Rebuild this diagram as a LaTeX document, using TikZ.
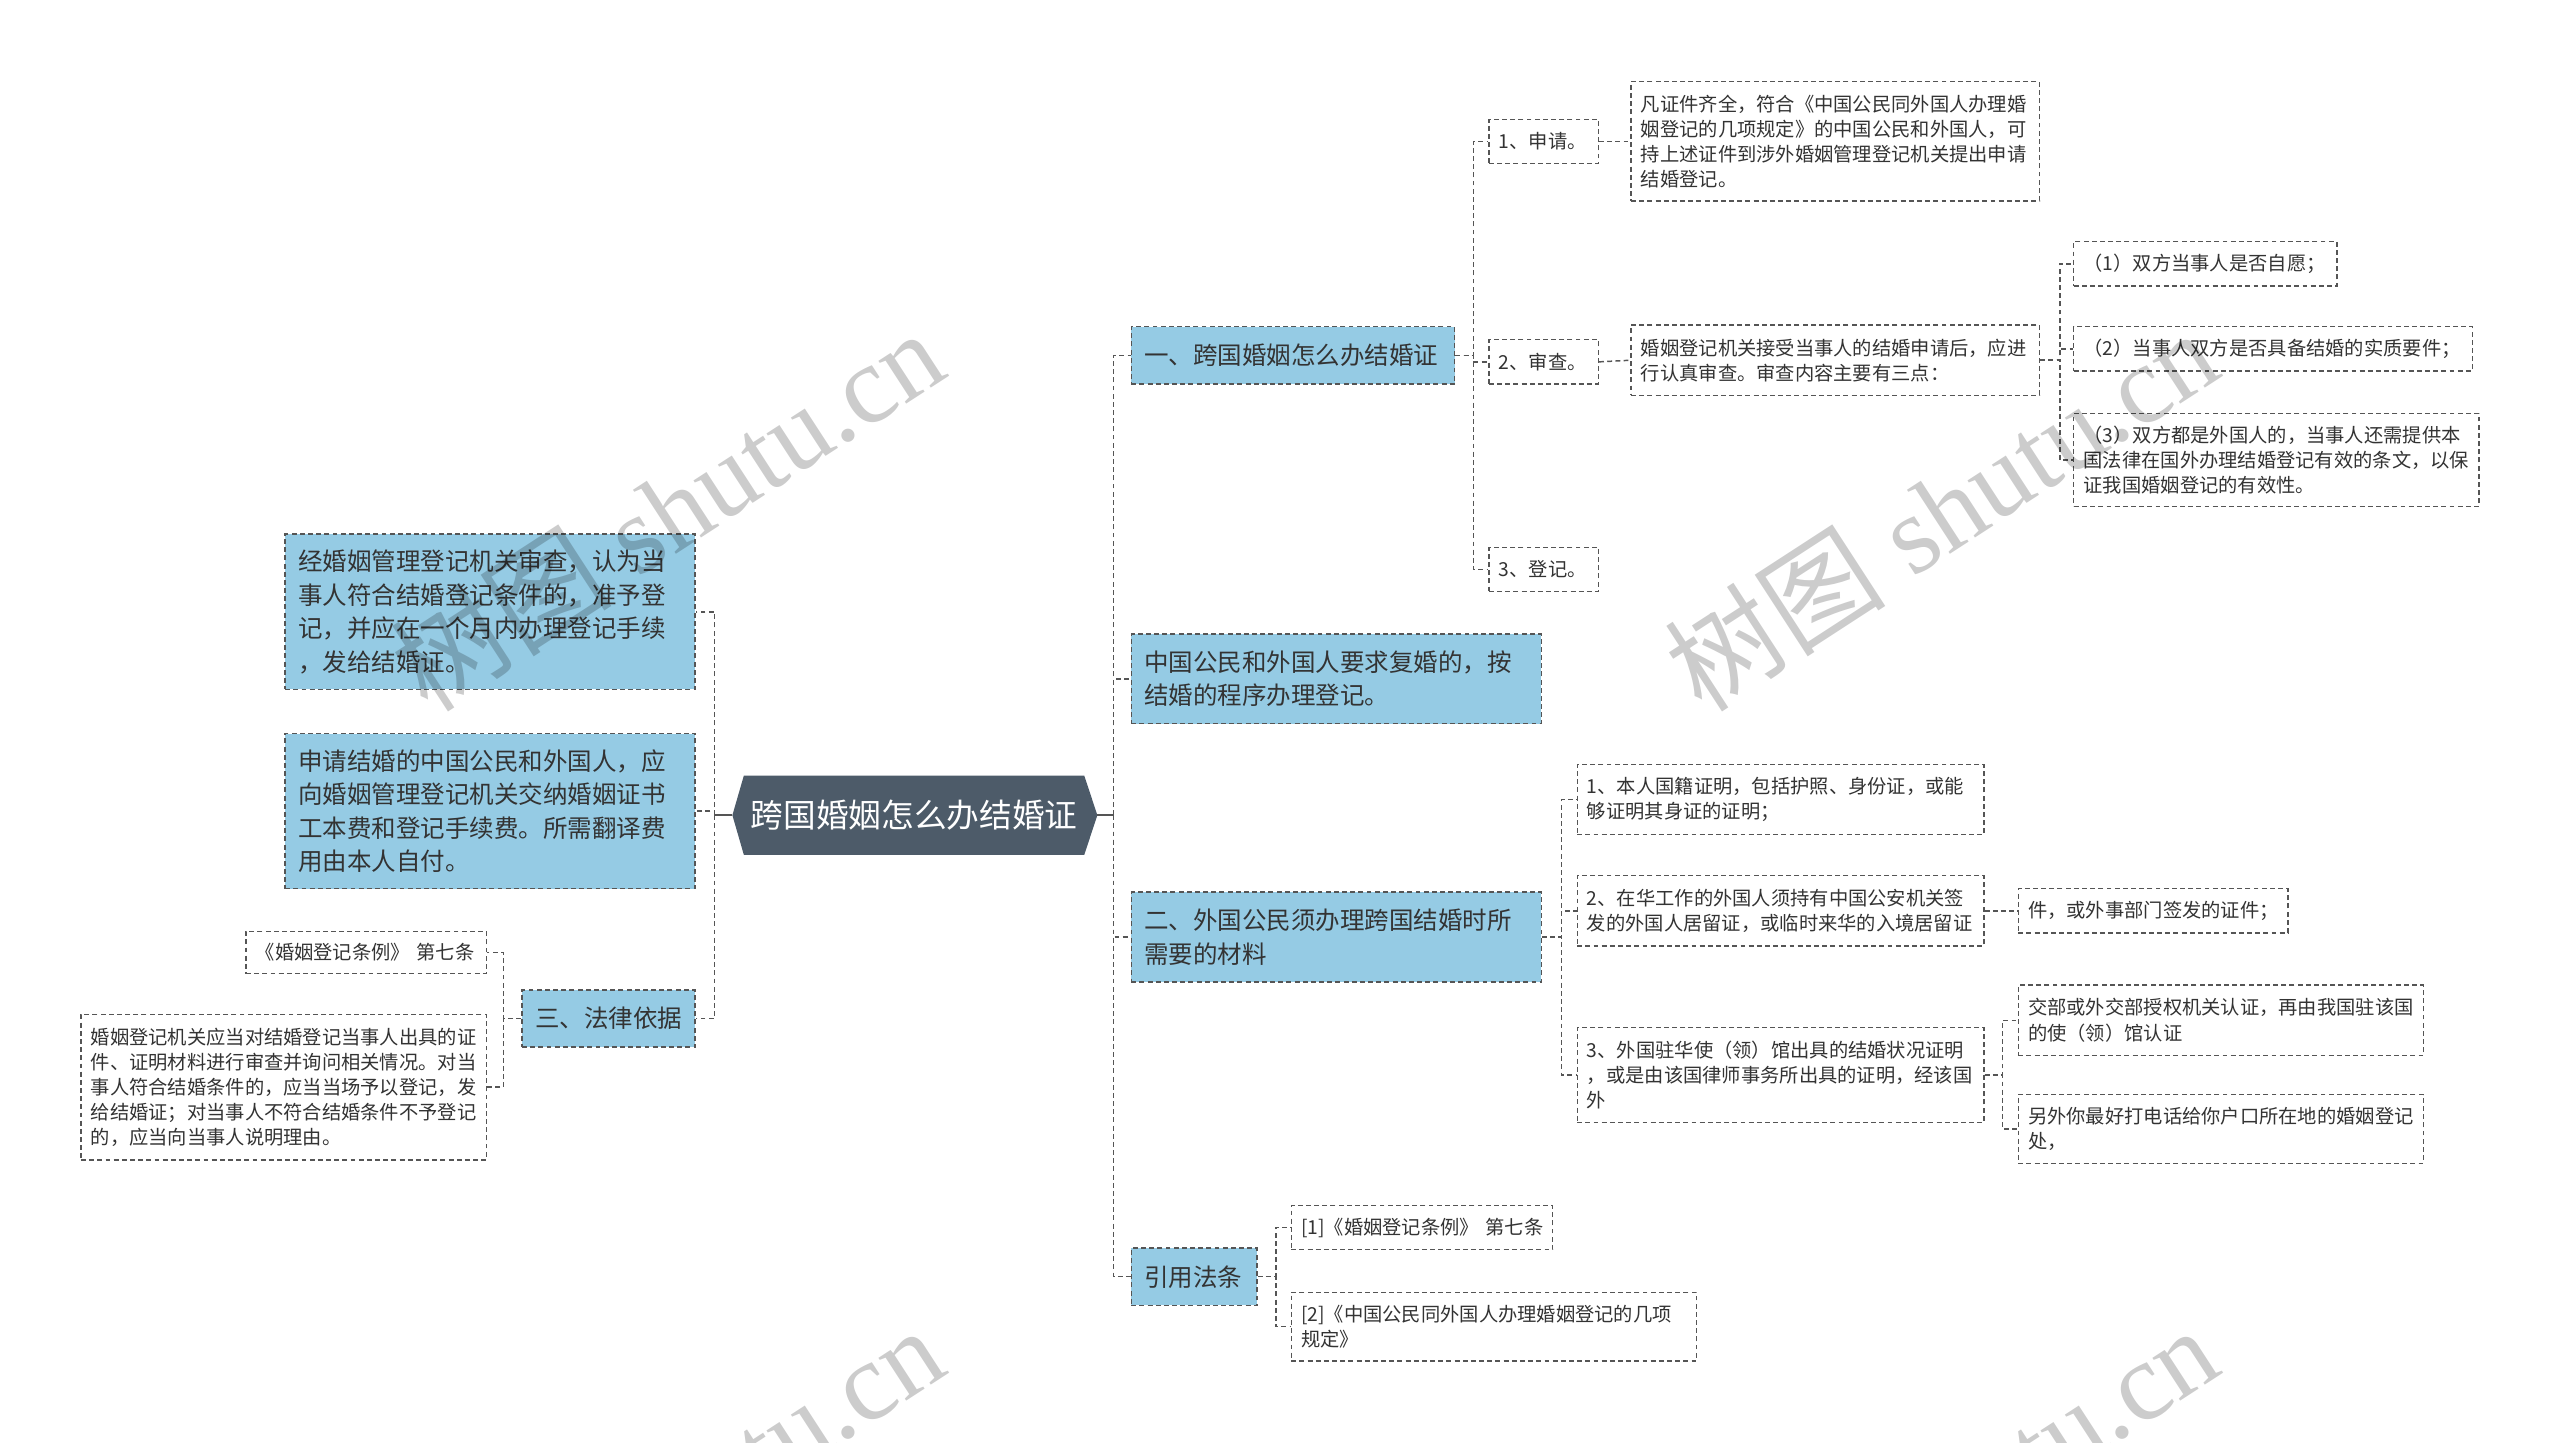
\documentclass[tikz,border=0pt]{standalone}
\usepackage{fontspec}
\newfontfamily\cjk{Noto Sans CJK SC}
\newfontfamily\wmfont{Liberation Serif}
\usetikzlibrary{backgrounds,calc}
\definecolor{bluebox}{HTML}{95CBE4}
\definecolor{rootfill}{HTML}{4D5B69}
\definecolor{edgec}{HTML}{555555}
\definecolor{txt}{HTML}{333333}
\tikzset{
 conn/.style={draw=edgec, line width=0.9pt, dash pattern=on 3pt off 2pt},
 big/.style={draw=edgec, line width=0.9pt, dash pattern=on 3pt off 2pt, fill=bluebox, font=\cjk\fontsize{15}{20.5}\selectfont, text=txt, inner xsep=8pt, inner ysep=0pt, align=left},
 sm/.style={draw=edgec, line width=0.8pt, dash pattern=on 3pt off 2pt, fill=white, font=\cjk\fontsize{11.8}{15.4}\selectfont, text=txt, inner xsep=6pt, inner ysep=0pt, align=left},
 wmark/.style={rotate=33, text=black, text opacity=0.2, font=\wmfont\fontsize{68}{68}\selectfont},
}
\begin{document}
\begin{tikzpicture}[x=1pt,y=-1pt]
\useasboundingbox (0,0) rectangle (1567,883);
% root
\node[minimum width=208pt, minimum height=48pt, inner sep=0pt, text=white, font=\cjk\fontsize{20}{24}\selectfont] (root) at (559.5,499) {跨国婚姻怎么办结婚证};
\coordinate (rootR) at ($(root.east)+(8,0)$);
\coordinate (rootL) at ($(root.west)+(-7,0)$);
\begin{scope}[on background layer]
\fill[rootfill] (root.north west) -- (root.north east) -- (rootR) -- (root.south east) -- (root.south west) -- (rootL) -- cycle;
\end{scope}
% right level 1
\node[big, anchor=west, text width=182pt, minimum height=35pt] (A) at (692,217.5) {一、跨国婚姻怎么办结婚证};
\node[big, anchor=west, text width=235pt, minimum height=55pt] (B) at (692,415.5) {中国公民和外国人要求复婚的，按\\结婚的程序办理登记。};
\node[big, anchor=west, text width=235pt, minimum height=55pt] (C) at (692,573.5) {二、外国公民须办理跨国结婚时所\\需要的材料};
\node[big, anchor=west, text width=61pt, minimum height=35pt] (D) at (692,781.5) {引用法条};
% A children
\node[sm, anchor=west, text width=55pt, minimum height=27pt] (A1) at (911,86.5) {1、申请。};
\node[sm, anchor=west, text width=55pt, minimum height=27pt] (A2) at (911,221.5) {2、审查。};
\node[sm, anchor=west, text width=55pt, minimum height=27pt] (A3) at (911,348.5) {3、登记。};
\node[sm, anchor=west, text width=238pt, minimum height=73pt] (A1c) at (998,86.5) {凡证件齐全，符合《中国公民同外国人办理婚\\姻登记的几项规定》的中国公民和外国人，可\\持上述证件到涉外婚姻管理登记机关提出申请\\结婚登记。};
\node[sm, anchor=west, text width=238pt, minimum height=43pt] (A2c) at (998,220.5) {婚姻登记机关接受当事人的结婚申请后，应进\\行认真审查。审查内容主要有三点：};
\node[sm, anchor=west, text width=149pt, minimum height=27pt] (P1) at (1269,161.5) {（1）双方当事人是否自愿；};
\node[sm, anchor=west, text width=232pt, minimum height=27pt] (P2) at (1269,213.5) {（2）当事人双方是否具备结婚的实质要件；};
\node[sm, anchor=west, text width=236pt, minimum height=57pt] (P3) at (1269,281.5) {（3）双方都是外国人的，当事人还需提供本\\国法律在国外办理结婚登记有效的条文，以保\\证我国婚姻登记的有效性。};
% C children
\node[sm, anchor=west, text width=237pt, minimum height=43pt] (C1) at (965,489.5) {1、本人国籍证明，包括护照、身份证，或能\\够证明其身证的证明；};
\node[sm, anchor=west, text width=237pt, minimum height=43pt] (C2) at (965,557.5) {2、在华工作的外国人须持有中国公安机关签\\发的外国人居留证，或临时来华的入境居留证};
\node[sm, anchor=west, text width=237pt, minimum height=58pt] (C3) at (965,658) {3、外国驻华使（领）馆出具的结婚状况证明\\，或是由该国律师事务所出具的证明，经该国\\外};
\node[sm, anchor=west, text width=153pt, minimum height=27pt] (C2c) at (1235,557.5) {件，或外事部门签发的证件；};
\node[sm, anchor=west, text width=236pt, minimum height=43pt] (C3a) at (1235,624.5) {交部或外交部授权机关认证，再由我国驻该国\\的使（领）馆认证};
\node[sm, anchor=west, text width=236pt, minimum height=42pt] (C3b) at (1235,691) {另外你最好打电话给你户口所在地的婚姻登记\\处，};
% D children
\node[sm, anchor=west, text width=148pt, minimum height=27pt] (D1) at (790,751.5) {\mbox{[1]《婚姻登记条例》 第七条}};
\node[sm, anchor=west, text width=236pt, minimum height=42pt] (D2) at (790,812) {[2]《中国公民同外国人办理婚姻登记的几项\\规定》};
% left side
\node[big, anchor=east, text width=235pt, minimum height=95pt] (L1) at (426,374.5) {经婚姻管理登记机关审查，认为当\\事人符合结婚登记条件的，准予登\\记，并应在一个月内办理登记手续\\，发给结婚证。};
\node[big, anchor=east, text width=235pt, minimum height=95pt] (L2) at (426,496.5) {申请结婚的中国公民和外国人，应\\向婚姻管理登记机关交纳婚姻证书\\工本费和登记手续费。所需翻译费\\用由本人自付。};
\node[big, anchor=east, text width=90pt, minimum height=35pt] (L3) at (426,623.5) {三、法律依据};
\node[sm, anchor=east, text width=135pt, minimum height=26pt] (L3a) at (298,583) {\mbox{《婚姻登记条例》 第七条}};
\node[sm, anchor=east, text width=236pt, minimum height=89pt] (L3b) at (298,665.5) {婚姻登记机关应当对结婚登记当事人出具的证\\件、证明材料进行审查并询问相关情况。对当\\事人符合结婚条件的，应当当场予以登记，发\\给结婚证；对当事人不符合结婚条件不予登记\\的，应当向当事人说明理由。};
% connectors
\draw[edgec, line width=1.2pt] (rootR) -- ++(10,0);
\draw[edgec, line width=1.2pt] (rootL) -- ++(-11,0);
\foreach \n in {A,B,C,D} \draw[conn] (rootR) ++(10,0) |- (\n.west);
\foreach \n in {L1,L2,L3} \draw[conn] (rootL) ++(-11,0) |- (\n.east);
\foreach \n in {A1,A2,A3} \draw[conn] (A.east) -- ++(11,0) |- (\n.west);
\draw[conn] (A1.east) -- (A1c.west);
\draw[conn] (A2.east) -- (A2c.west);
\foreach \n in {P1,P2,P3} \draw[conn] (A2c.east) -- ++(12,0) |- (\n.west);
\foreach \n in {C1,C2,C3} \draw[conn] (C.east) -- ++(12,0) |- (\n.west);
\draw[conn] (C2.east) -- (C2c.west);
\foreach \n in {C3a,C3b} \draw[conn] (C3.east) -- ++(11,0) |- (\n.west);
\foreach \n in {D1,D2} \draw[conn] (D.east) -- ++(11,0) |- (\n.west);
\foreach \n in {L3a,L3b} \draw[conn] (L3.west) -- ++(-11,0) |- (\n.east);
% watermarks
\node[wmark] (wm1) at (408,312) {{\cjk 树图} shutu.cn};
\node[wmark] (wm2) at (1188,312) {{\cjk 树图} shutu.cn};
\node[wmark] (wm3) at (408,922) {{\cjk 树图} shutu.cn};
\node[wmark] (wm4) at (1188,922) {{\cjk 树图} shutu.cn};
\end{tikzpicture}
\end{document}
